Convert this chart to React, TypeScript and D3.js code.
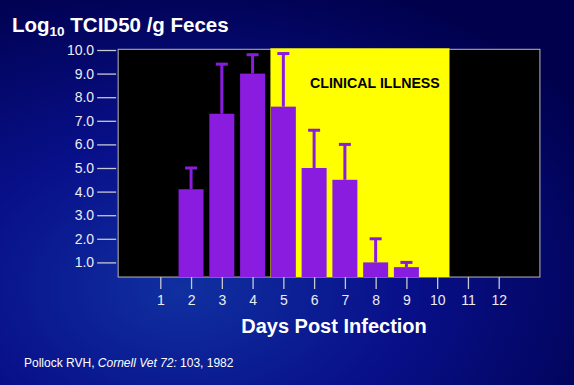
import React, { useRef, useEffect } from 'react'
import * as d3 from 'd3'

// data
const dayTicks = [1, 2, 3, 4, 5, 6, 7, 8, 9, 10, 11, 12]
const yTickValues = [1, 2, 3, 4, 5, 6, 7, 8, 9, 10]
const barDays = [2, 3, 4, 5, 6, 7, 8, 9]
const titers = [4.1, 7.3, 9.0, 7.6, 5.0, 4.5, 1.0, 0.8]
const errTops = [5.0, 9.4, 9.8, 9.85, 6.6, 6.0, 2.0, 1.0]
const illnessSpan = [4.58, 10.4]

const FONT = 'Arial, "Liberation Sans", sans-serif'

export default function App() {
    const visEl = useRef<HTMLDivElement>(null)
    const width = 574
    const height = 385

    useEffect(() => {
        const root = d3.select(visEl.current)
        root.selectAll('*').remove()
        const svg = root.append('svg')
            .attr('width', width)
            .attr('height', height)
            .style('display', 'block')

        const defs = svg.append('defs')
        const grad = defs.append('radialGradient')
            .attr('id', 'bg')
            .attr('cx', '32%').attr('cy', '75%').attr('r', '85%')
        grad.append('stop').attr('offset', '0%').attr('stop-color', '#1030a0')
        grad.append('stop').attr('offset', '45%').attr('stop-color', '#08108a')
        grad.append('stop').attr('offset', '100%').attr('stop-color', '#00004c')

        svg.append('rect')
            .attr('width', width).attr('height', height)
            .attr('fill', 'url(#bg)')

        const x = d3.scaleLinear().domain([1, 12]).range([160.3, 498.7])
        const y = d3.scaleLinear().domain([0, 10]).range([286, 50])

        const plotLeft = x(-0.37)
        const plotRight = x(13.34)
        const plotTop = y(10.03)
        const plotBottom = y(0.38)
        const barW = 25

        // plot background
        svg.append('rect')
            .attr('x', plotLeft).attr('y', plotTop)
            .attr('width', plotRight - plotLeft)
            .attr('height', plotBottom - plotTop)
            .attr('fill', '#000')
            .attr('stroke', '#b8b8c0')
            .attr('stroke-width', 1)

        // clinical illness band
        svg.append('rect')
            .attr('x', x(illnessSpan[0])).attr('y', plotTop - 1)
            .attr('width', x(illnessSpan[1]) - x(illnessSpan[0]))
            .attr('height', plotBottom - plotTop + 1)
            .attr('fill', '#ffff00')

        svg.append('text')
            .attr('x', 310).attr('y', 87.5)
            .attr('font-family', FONT)
            .attr('font-weight', 'bold')
            .attr('font-size', 14.2)
            .attr('fill', '#000')
            .text('CLINICAL ILLNESS')

        const purple = '#8a1ce0'
        const bars = barDays.map((d, i) => ({ day: d, v: titers[i], e: errTops[i] }))

        // error bars
        svg.selectAll('.stem').data(bars).enter().append('line')
            .attr('x1', d => x(d.day)).attr('x2', d => x(d.day))
            .attr('y1', d => y(d.v)).attr('y2', d => y(d.e))
            .attr('stroke', purple).attr('stroke-width', 3)
        svg.selectAll('.cap').data(bars).enter().append('line')
            .attr('x1', d => x(d.day) - 6).attr('x2', d => x(d.day) + 6)
            .attr('y1', d => y(d.e)).attr('y2', d => y(d.e))
            .attr('stroke', purple).attr('stroke-width', 3)

        svg.selectAll('.bar').data(bars).enter().append('rect')
            .attr('x', d => x(d.day) - barW / 2)
            .attr('y', d => y(d.v))
            .attr('width', barW)
            .attr('height', d => plotBottom - y(d.v))
            .attr('fill', purple)

        // y axis
        const yAxis = d3.axisLeft(y)
            .tickValues(yTickValues)
            .tickFormat(d3.format('.1f'))
            .tickSize(19)
            .tickPadding(3)
        const yAxisG = svg.append('g')
            .attr('transform', `translate(${plotLeft - 2},0)`)
            .call(yAxis)
        yAxisG.select('.domain').remove()
        yAxisG.selectAll('line').attr('stroke', '#c8c8d0').attr('stroke-width', 1.3)
        yAxisG.selectAll('text')
            .attr('fill', '#ececf4')
            .attr('font-family', FONT)
            .attr('font-size', 14)

        // x axis
        const xAxis = d3.axisBottom(x)
            .tickValues(dayTicks)
            .tickFormat(d3.format('d'))
            .tickSize(12)
            .tickPadding(6)
        const xAxisG = svg.append('g')
            .attr('transform', `translate(0,${plotBottom})`)
            .call(xAxis)
        xAxisG.select('.domain').remove()
        xAxisG.selectAll('line').attr('stroke', '#c8c8d0').attr('stroke-width', 1.3)
        xAxisG.selectAll('text')
            .attr('fill', '#ececf4')
            .attr('font-family', FONT)
            .attr('font-size', 14)

        svg.append('text')
            .attr('x', 334).attr('y', 333)
            .attr('text-anchor', 'middle')
            .attr('font-family', FONT)
            .attr('font-weight', 'bold')
            .attr('font-size', 20)
            .attr('fill', '#fff')
            .text('Days Post Infection')

        // title
        const title = svg.append('text')
            .attr('x', 12).attr('y', 31.5)
            .attr('font-family', FONT)
            .attr('font-weight', 'bold')
            .attr('font-size', 20.5)
            .attr('fill', '#fff')
        title.append('tspan').text('Log')
        title.append('tspan').attr('font-size', 13.5).attr('dy', 4).text('10')
        title.append('tspan').attr('dy', -4).text(' TCID50 /g Feces')

        // citation
        const cite = svg.append('text')
            .attr('x', 24).attr('y', 367)
            .attr('font-family', FONT)
            .attr('font-size', 12)
            .attr('fill', '#fff')
        cite.append('tspan').text('Pollock RVH, ')
        cite.append('tspan').attr('font-style', 'italic').text('Cornell Vet 72:')
        cite.append('tspan').text(' 103, 1982')
    }, [])

    return (
        <div style={{ position: 'absolute', left: 0, top: 0 }}>
            <div ref={visEl}></div>
        </div>
    )
}
